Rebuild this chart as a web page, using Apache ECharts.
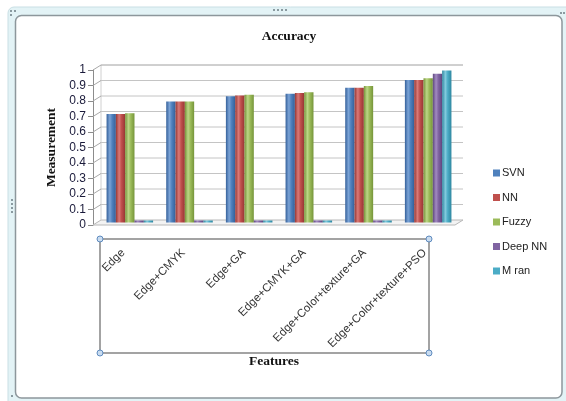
<!DOCTYPE html>
<html>
<head>
<meta charset="utf-8">
<script src="https://cdn.jsdelivr.net/npm/echarts@6/dist/echarts.min.js"></script>
<style>
  html, body { margin: 0; padding: 0; background: #ffffff; }
  #chart { width: 566px; height: 401px; }
</style>
</head>
<body>
<div id="chart"></div>
<script>
// Feature sets on the category axis
const features = ['Edge', 'Edge+CMYK', 'Edge+GA', 'Edge+CMYK+GA', 'Edge+Color+texture+GA', 'Edge+Color+texture+PSO'];

// Accuracy per classifier
const svn    = [0.70, 0.78, 0.815, 0.83, 0.87, 0.92];
const nn     = [0.70, 0.78, 0.82, 0.835, 0.87, 0.92];
const fuzzy  = [0.705, 0.78, 0.825, 0.84, 0.88, 0.93];
const deepNN = [0, 0, 0, 0, 0, 0.96];
const mRan   = [0, 0, 0, 0, 0, 0.98];

// Value-axis ticks
const yTicks = [0, 0.1, 0.2, 0.3, 0.4, 0.5, 0.6, 0.7, 0.8, 0.9, 1];

const seriesDefs = [
  { name: 'SVN',     data: svn,    base: '#4F81BD', dark: '#34609a', light: '#7ba3d6' },
  { name: 'NN',      data: nn,     base: '#C0504D', dark: '#973633', light: '#d97a77' },
  { name: 'Fuzzy',   data: fuzzy,  base: '#9BBB59', dark: '#76953a', light: '#bcd686' },
  { name: 'Deep NN', data: deepNN, base: '#8064A2', dark: '#5f477f', light: '#a28bc1' },
  { name: 'M ran',   data: mRan,   base: '#4BACC6', dark: '#2f87a0', light: '#83cbde' }
];

// depth offset of the back wall relative to the front plane
const DX = 8, DY = -5;

function columnFill(d) {
  return new echarts.graphic.LinearGradient(0, 0, 1, 0, [
    { offset: 0, color: d.dark },
    { offset: 0.35, color: d.light },
    { offset: 0.6, color: d.base },
    { offset: 1, color: d.dark }
  ]);
}

const chart = echarts.init(document.getElementById('chart'), null, { renderer: 'canvas' });

// columns stand half-way into the box, so they use a grid shifted by half the depth
const barSeries = seriesDefs.map(d => ({
  name: d.name,
  type: 'bar',
  xAxisIndex: 1,
  yAxisIndex: 1,
  data: d.data,
  barGap: '0%',
  barCategoryGap: '22%',
  barMinHeight: (d.name === 'Deep NN' || d.name === 'M ran') ? 2 : 0,
  itemStyle: { color: columnFill(d) },
  z: 3
}));

// back wall, side wall and floor of the 3-D plot box
const wallSeries = {
  type: 'custom',
  name: 'walls',
  silent: true,
  z: 1,
  xAxisIndex: 0,
  yAxisIndex: 0,
  data: yTicks.map(v => [0, v]),
  renderItem: function (params, api) {
    const cs = params.coordSys;
    const v = api.value(1);
    const y = api.coord([0, v])[1];
    const x0 = cs.x, x1 = cs.x + cs.width;
    const children = [];
    if (v === 0) {
      children.push({
        type: 'polygon',
        shape: { points: [[x0, y], [x1, y], [x1 + DX, y + DY], [x0 + DX, y + DY]] },
        style: { fill: '#f3f3f3', stroke: '#b8b8b8', lineWidth: 1 }
      });
      const yTop = api.coord([0, yTicks[yTicks.length - 1]])[1];
      children.push({
        type: 'line',
        shape: { x1: x0 + DX, y1: y + DY, x2: x0 + DX, y2: yTop + DY },
        style: { stroke: '#d0d0d0', lineWidth: 1 }
      });
    } else {
      children.push({
        type: 'line',
        shape: { x1: x0, y1: y, x2: x0 + DX, y2: y + DY },
        style: { stroke: '#a8a8a8', lineWidth: 1 }
      });
      children.push({
        type: 'line',
        shape: { x1: x0 + DX, y1: y + DY, x2: x1 + DX, y2: y + DY },
        style: { stroke: v === 1 ? '#a0a0a0' : '#c4c4c4', lineWidth: 1 }
      });
    }
    return { type: 'group', children: children };
  }
};

const handleStyle = { fill: '#c9dcf0', stroke: '#5f8bbf', lineWidth: 1 };
const serifBold = { fontFamily: 'Liberation Serif', fontWeight: 'bold', fontSize: 13.5, color: '#111' };
const grip = (x, y) => ({ type: 'rect', shape: { x: x, y: y, width: 2, height: 2 }, style: { fill: '#8a9aa0' } });

chart.setOption({
  animation: false,
  backgroundColor: '#ffffff',
  title: {
    text: 'Accuracy',
    left: 284,
    top: 25,
    textAlign: 'center',
    textStyle: serifBold
  },
  legend: {
    orient: 'vertical',
    left: 488,
    top: 162,
    itemWidth: 7,
    itemHeight: 7,
    itemGap: 12.5,
    icon: 'rect',
    data: seriesDefs.map(d => ({ name: d.name, itemStyle: { color: d.base } })),
    textStyle: { fontFamily: 'Liberation Sans', fontSize: 11, color: '#222', padding: [0, 0, 0, -3], lineHeight: 12 }
  },
  grid: [
    { left: 93, right: 111, top: 70, bottom: 176, containLabel: false },
    { left: 100, right: 108, top: 67.5, bottom: 178.5, containLabel: false }
  ],
  xAxis: [
    {
      type: 'category',
      gridIndex: 0,
      data: features,
      name: 'Features',
      nameLocation: 'middle',
      nameGap: 130,
      nameTextStyle: serifBold,
      axisLine: { show: false },
      axisTick: { show: false },
      axisLabel: {
        rotate: 45,
        margin: 26,
        interval: 0,
        fontFamily: 'Liberation Sans',
        fontSize: 11.5,
        color: '#333'
      }
    },
    {
      type: 'category',
      gridIndex: 1,
      data: features,
      axisLine: { show: false },
      axisTick: { show: false },
      axisLabel: { show: false }
    }
  ],
  yAxis: [
    {
      type: 'value',
      gridIndex: 0,
      min: 0,
      max: 1,
      interval: 0.1,
      name: 'Measurement',
      nameLocation: 'middle',
      nameGap: 31,
      nameTextStyle: serifBold,
      axisLine: { show: true, lineStyle: { color: '#8c8c8c', width: 1 } },
      axisTick: { show: true, inside: false, length: 5, lineStyle: { color: '#8c8c8c' } },
      splitLine: { show: false },
      axisLabel: {
        margin: 7,
        fontFamily: 'Liberation Sans',
        fontSize: 12,
        color: '#1a1a3a',
        formatter: v => String(+v.toFixed(1))
      }
    },
    {
      type: 'value',
      gridIndex: 1,
      min: 0,
      max: 1,
      interval: 0.1,
      axisLine: { show: false },
      axisTick: { show: false },
      splitLine: { show: false },
      axisLabel: { show: false }
    }
  ],
  graphic: [
    // embedded-object frame
    { type: 'rect', z: -10, shape: { x: 8, y: 7, width: 566, height: 400, r: 6 },
      style: { fill: '#e3f3f6', stroke: '#c9dfe4', lineWidth: 1 } },
    { type: 'rect', z: -9, shape: { x: 15.5, y: 15.5, width: 546.5, height: 382.5, r: 6 },
      style: { fill: '#ffffff', stroke: '#8d979c', lineWidth: 1.5 } },
    // frame grips
    { type: 'group', z: -8, children: [
      grip(273, 9), grip(277, 9), grip(281, 9), grip(285, 9),
      grip(11, 199), grip(11, 203), grip(11, 207), grip(11, 211),
      grip(10, 10), grip(14, 10), grip(10, 14),
      grip(560, 12), grip(563, 12), grip(11, 395)
    ] },
    // selection box round the category labels
    { type: 'rect', z: 5, shape: { x: 100, y: 239, width: 329, height: 114 },
      style: { fill: 'none', stroke: '#a3a3a3', lineWidth: 2 } },
    { type: 'circle', z: 6, shape: { cx: 100, cy: 239, r: 3 }, style: handleStyle },
    { type: 'circle', z: 6, shape: { cx: 429, cy: 239, r: 3 }, style: handleStyle },
    { type: 'circle', z: 6, shape: { cx: 100, cy: 353, r: 3 }, style: handleStyle },
    { type: 'circle', z: 6, shape: { cx: 429, cy: 353, r: 3 }, style: handleStyle }
  ],
  series: [wallSeries].concat(barSeries)
});
</script>
</body>
</html>
